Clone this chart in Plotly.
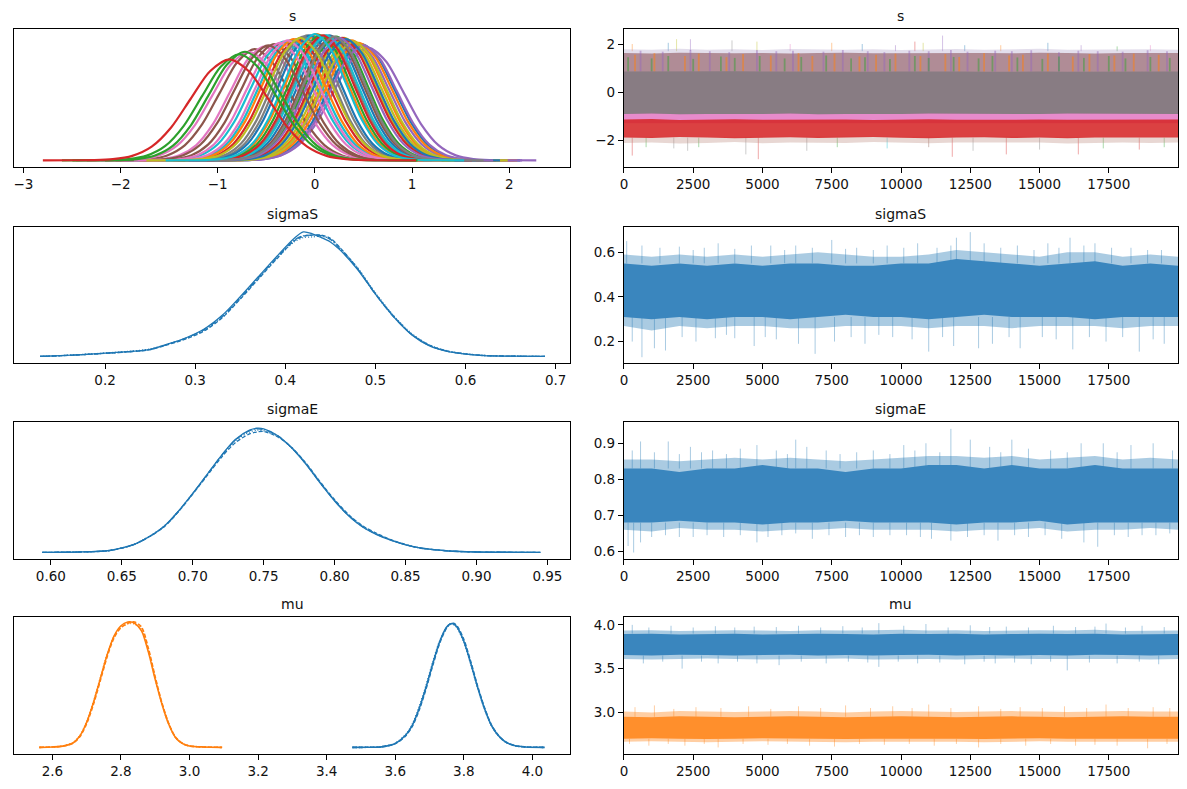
import plotly.graph_objects as go
from plotly.subplots import make_subplots

# matplotlib tab10 colours
TAB10 = ['#1f77b4', '#ff7f0e', '#2ca02c', '#d62728', '#9467bd',
         '#8c564b', '#e377c2', '#7f7f7f', '#bcbd22', '#17becf']

# ---------------- KDE data ----------------
# s: one shape profile, then per element centre / sd / peak height
s_profile_z = [-4.8, -4.0, -3.5, -3.0, -2.5, -2.0, -1.5, -1.0, -0.5, 0.0,
               0.5, 1.0, 1.5, 2.0, 2.5, 3.0, 3.5, 4.0, 4.8]
s_profile_h = [0.0, 0.0004, 0.002, 0.011, 0.044, 0.135, 0.325, 0.607, 0.882, 1.0,
               0.882, 0.607, 0.325, 0.135, 0.044, 0.011, 0.002, 0.0004, 0.0]

s_center = [0.15, 0.38, 0.55, -0.62, -0.52, -0.08, 0.30, -0.32, 0.48, 0.02,
            0.22, -0.18, 0.42, -0.42, -0.68, 0.10, 0.35, -0.25, -0.05, 0.45,
            0.05, 0.28, 0.50, 0.18, -0.36, -0.12, 0.40, 0.12, 0.32, -0.22,
            0.08, 0.25, -0.48, -0.28, 0.20, -0.15, 0.00, -0.72, -0.78, -0.88]
s_peak = [0.99, 0.95, 0.89, 0.88, 0.90, 0.99, 0.97, 0.94, 0.92, 1.00,
          0.98, 0.96, 0.93, 0.92, 0.86, 0.99, 0.95, 0.95, 0.99, 0.93,
          0.99, 0.97, 0.91, 0.98, 0.93, 0.98, 0.94, 0.99, 0.96, 0.96,
          0.99, 0.97, 0.91, 0.95, 0.98, 0.97, 1.00, 0.86, 0.84, 0.80]
s_sd = [0.32, 0.33, 0.36, 0.36, 0.35, 0.32, 0.33, 0.34, 0.34, 0.32,
        0.32, 0.33, 0.34, 0.34, 0.37, 0.32, 0.33, 0.33, 0.32, 0.34,
        0.32, 0.33, 0.34, 0.32, 0.34, 0.32, 0.33, 0.32, 0.33, 0.33,
        0.32, 0.33, 0.35, 0.33, 0.32, 0.33, 0.32, 0.37, 0.38, 0.40]
s_color = [0, 1, 4, 5, 6, 7, 8, 9, 0, 1,
           2, 3, 4, 5, 6, 7, 8, 9, 0, 1,
           2, 3, 4, 5, 6, 7, 8, 9, 0, 1,
           3, 4, 5, 6, 7, 8, 9, 2, 2, 3]

sigmaS_x = [0.128, 0.15, 0.175, 0.2, 0.225, 0.25, 0.27, 0.29, 0.31, 0.33, 0.35, 0.37, 0.39, 0.41,
            0.42, 0.43, 0.44, 0.45, 0.46, 0.48, 0.50, 0.52, 0.54, 0.56, 0.58, 0.60, 0.62, 0.65, 0.688]
sigmaS_c1 = [0, 0.006, 0.015, 0.026, 0.038, 0.056, 0.10, 0.15, 0.22, 0.33, 0.48, 0.64, 0.80, 0.95,
             1.0, 0.985, 0.955, 0.92, 0.86, 0.70, 0.50, 0.32, 0.175, 0.085, 0.04, 0.018, 0.007, 0.002, 0]
sigmaS_c2 = [0, 0.005, 0.014, 0.024, 0.036, 0.054, 0.095, 0.14, 0.205, 0.31, 0.46, 0.62, 0.78, 0.93,
             0.965, 0.975, 0.975, 0.95, 0.88, 0.71, 0.505, 0.325, 0.18, 0.09, 0.042, 0.02, 0.008, 0.002, 0]
sigmaS_c3 = [0, 0.006, 0.016, 0.027, 0.04, 0.06, 0.10, 0.145, 0.21, 0.315, 0.465, 0.625, 0.785, 0.92,
             0.955, 0.96, 0.965, 0.945, 0.875, 0.715, 0.51, 0.33, 0.185, 0.092, 0.044, 0.021, 0.008, 0.002, 0]
sigmaS_c4 = [0, 0.005, 0.014, 0.025, 0.037, 0.055, 0.098, 0.148, 0.215, 0.32, 0.47, 0.63, 0.79, 0.935,
             0.97, 0.975, 0.97, 0.94, 0.87, 0.705, 0.50, 0.32, 0.178, 0.087, 0.041, 0.019, 0.007, 0.002, 0]

sigmaE_x = [0.594, 0.62, 0.64, 0.65, 0.66, 0.67, 0.68, 0.69, 0.70, 0.71, 0.72, 0.73, 0.74, 0.745, 0.75,
            0.76, 0.77, 0.78, 0.79, 0.80, 0.81, 0.82, 0.83, 0.84, 0.85, 0.86, 0.88, 0.90, 0.945]
sigmaE_c1 = [0, 0.003, 0.013, 0.035, 0.07, 0.13, 0.21, 0.33, 0.47, 0.62, 0.77, 0.90, 0.975, 0.99, 0.985,
             0.93, 0.83, 0.70, 0.55, 0.41, 0.29, 0.20, 0.14, 0.095, 0.06, 0.035, 0.011, 0.003, 0]
sigmaE_c2 = [0, 0.003, 0.012, 0.034, 0.07, 0.128, 0.205, 0.325, 0.465, 0.61, 0.755, 0.875, 0.945, 0.96, 0.965,
             0.92, 0.835, 0.71, 0.56, 0.42, 0.30, 0.21, 0.15, 0.1, 0.063, 0.036, 0.012, 0.003, 0]
sigmaE_c3 = [0, 0.003, 0.013, 0.036, 0.072, 0.132, 0.21, 0.33, 0.47, 0.615, 0.765, 0.89, 0.96, 0.975, 0.97,
             0.925, 0.83, 0.705, 0.555, 0.415, 0.295, 0.205, 0.145, 0.098, 0.062, 0.036, 0.012, 0.003, 0]
sigmaE_c4 = [0, 0.003, 0.012, 0.034, 0.069, 0.129, 0.208, 0.328, 0.468, 0.618, 0.768, 0.895, 0.97, 0.985, 0.98,
             0.93, 0.832, 0.702, 0.552, 0.412, 0.292, 0.202, 0.142, 0.096, 0.061, 0.035, 0.011, 0.003, 0]

mu1_x = [2.562, 2.60, 2.63, 2.66, 2.68, 2.70, 2.72, 2.74, 2.76, 2.78, 2.80, 2.82,
         2.83, 2.84, 2.86, 2.88, 2.90, 2.92, 2.94, 2.96, 2.98, 3.00, 3.04, 3.095]
mu1_c1 = [0, 0.003, 0.01, 0.035, 0.09, 0.2, 0.36, 0.55, 0.74, 0.89, 0.97, 1.0,
          1.0, 0.99, 0.93, 0.76, 0.54, 0.34, 0.18, 0.075, 0.03, 0.011, 0.003, 0]
mu1_c2 = [0, 0.003, 0.01, 0.033, 0.085, 0.19, 0.345, 0.535, 0.725, 0.875, 0.955, 0.99,
          1.0, 1.0, 0.96, 0.79, 0.56, 0.35, 0.185, 0.078, 0.031, 0.011, 0.003, 0]
mu1_c3 = [0, 0.003, 0.011, 0.036, 0.092, 0.205, 0.365, 0.555, 0.745, 0.885, 0.96, 0.985,
          0.99, 0.985, 0.94, 0.775, 0.55, 0.345, 0.182, 0.076, 0.03, 0.011, 0.003, 0]

mu0_x = [3.475, 3.52, 3.56, 3.60, 3.63, 3.65, 3.67, 3.69, 3.71, 3.73, 3.75, 3.76,
         3.77, 3.78, 3.80, 3.82, 3.84, 3.86, 3.88, 3.90, 3.92, 3.95, 3.98, 4.036]
mu0_c1 = [0, 0.0005, 0.004, 0.031, 0.096, 0.178, 0.312, 0.482, 0.673, 0.846, 0.96, 0.985,
          0.985, 0.96, 0.846, 0.673, 0.482, 0.312, 0.178, 0.096, 0.046, 0.012, 0.003, 0]
mu0_c2 = [0, 0.0005, 0.004, 0.03, 0.092, 0.17, 0.30, 0.47, 0.66, 0.835, 0.955, 0.985,
          0.99, 0.97, 0.86, 0.685, 0.49, 0.318, 0.182, 0.098, 0.047, 0.012, 0.003, 0]
mu0_c3 = [0, 0.0005, 0.005, 0.033, 0.1, 0.185, 0.325, 0.495, 0.685, 0.85, 0.955, 0.98,
          0.98, 0.955, 0.84, 0.668, 0.478, 0.31, 0.177, 0.095, 0.045, 0.012, 0.003, 0]

# ---------------- trace data (envelopes read every 1000 draws) ----------------
trace_iter = [0, 1000, 2000, 3000, 4000, 5000, 6000, 7000, 8000, 9000, 10000,
              11000, 12000, 13000, 14000, 15000, 16000, 17000, 18000, 19000, 19999]

# s
s_low_hi = [-1.85, -1.86, -1.84, -1.85, -1.86, -1.85, -1.84, -1.86, -1.85, -1.84, -1.85,
            -1.86, -1.85, -1.84, -1.86, -1.85, -1.86, -1.85, -1.84, -1.85, -1.85]
s_low_lo = [-2.12, -2.1, -2.15, -2.12, -2.08, -2.14, -2.1, -2.1, -2.12, -2.08, -2.12,
            -2.14, -2.1, -2.12, -2.1, -2.1, -2.15, -2.12, -2.1, -2.12, -2.1]
s_pink_hi = [-0.8, -0.78, -0.82, -0.8, -0.79, -0.81, -0.8, -0.78, -0.8, -0.82, -0.8,
             -0.79, -0.81, -0.8, -0.78, -0.8, -0.81, -0.79, -0.8, -0.8, -0.8]
s_pink_lo = [-1.3, -1.3, -1.28, -1.3, -1.31, -1.3, -1.29, -1.3, -1.3, -1.28, -1.3,
             -1.31, -1.3, -1.29, -1.3, -1.3, -1.31, -1.3, -1.29, -1.3, -1.3]
s_red_hi = [-1.15, -1.13, -1.17, -1.15, -1.14, -1.16, -1.15, -1.13, -1.15, -1.17, -1.15,
            -1.14, -1.16, -1.15, -1.13, -1.15, -1.16, -1.15, -1.14, -1.15, -1.15]
s_red_lo = [-1.9, -1.92, -1.88, -1.9, -1.93, -1.9, -1.89, -1.92, -1.9, -1.88, -1.91,
            -1.93, -1.9, -1.89, -1.92, -1.9, -1.93, -1.9, -1.88, -1.9, -1.9]
s_upper_hi = [1.62, 1.6, 1.64, 1.62, 1.61, 1.63, 1.6, 1.62, 1.64, 1.61, 1.62,
              1.6, 1.63, 1.62, 1.61, 1.64, 1.62, 1.6, 1.63, 1.62, 1.62]
s_top_hi = [1.78, 1.76, 1.8, 1.76, 1.78, 1.75, 1.79, 1.77, 1.76, 1.78, 1.75,
            1.77, 1.79, 1.76, 1.78, 1.8, 1.76, 1.77, 1.75, 1.78, 1.76]
s_core_hi = [0.85, 0.86, 0.84, 0.85, 0.86, 0.85, 0.84, 0.86, 0.85, 0.84, 0.85,
             0.86, 0.85, 0.84, 0.86, 0.85, 0.84, 0.85, 0.86, 0.85, 0.85]
s_core_lo = [-0.92, -0.9, -0.93, -0.92, -0.91, -0.92, -0.9, -0.93, -0.92, -0.91, -0.92,
             -0.9, -0.92, -0.93, -0.91, -0.92, -0.9, -0.92, -0.93, -0.91, -0.92]
# coloured streaks in the upper part of the s trace
s_orange_x = [400, 1100, 2200, 2700, 3700, 4300, 5300, 6300, 6800, 7600, 8500, 9100, 9800,
              10700, 11600, 12100, 13000, 13900, 14400, 15300, 16200, 16800, 17700, 18400, 19300]
s_orange_top = [1.55, 1.62, 1.5, 1.6, 1.45, 1.58, 1.52, 1.62, 1.5, 1.6, 1.48, 1.55, 1.6,
                1.5, 1.58, 1.46, 1.62, 1.52, 1.55, 1.6, 1.48, 1.58, 1.52, 1.6, 1.55]
s_green_x = [150, 1000, 1600, 2500, 3500, 4000, 4900, 5800, 6400, 7300, 8200, 8700, 9600,
             10500, 11000, 11900, 12800, 13300, 14200, 15100, 15700, 16600, 17500, 18100, 19000, 19700]
s_green_top = [1.45, 1.4, 1.5, 1.38, 1.48, 1.42, 1.5, 1.4, 1.46, 1.52, 1.4, 1.45, 1.38,
               1.5, 1.42, 1.46, 1.4, 1.5, 1.44, 1.38, 1.48, 1.42, 1.5, 1.4, 1.46, 1.42]
s_purple_x = [600, 1400, 2400, 3100, 3800, 4800, 5500, 6100, 7200, 7900, 8800, 9400, 10300,
              11000, 11800, 12400, 13400, 14000, 14700, 15700, 16400, 17100, 18000, 18900, 19600]
s_purple_top = [1.72, 1.68, 1.75, 1.7, 1.66, 1.74, 1.7, 1.72, 1.68, 1.75, 1.7, 1.66, 1.72,
                1.7, 1.75, 1.68, 1.72, 1.7, 1.74, 1.66, 1.72, 1.7, 1.68, 1.74, 1.7]
s_up_x = [300, 1600, 1900, 2400, 3900, 4800, 6000, 7500, 8600, 9800, 10500,
          10800, 11500, 12300, 13600, 15300, 16500, 17800, 19000]
s_up_top = [2.0, 2.05, 2.2, 2.2, 2.15, 2.1, 2.0, 2.05, 2.0, 1.95, 2.1,
            2.05, 2.35, 1.95, 1.95, 2.05, 1.95, 1.9, 1.95]
s_up_col = [1, 0, 8, 4, 7, 8, 6, 1, 0, 4, 3, 8, 4, 0, 1, 0, 4, 2, 6]
s_dn_x = [300, 800, 1800, 2300, 2700, 4400, 4850, 6600, 7700, 9500, 11000,
          11850, 12600, 13800, 15000, 16400, 17300, 18600, 19500]
s_dn_bot = [-2.65, -2.3, -2.35, -2.45, -2.3, -2.6, -2.8, -2.45, -2.3, -2.35, -2.3,
            -2.7, -2.45, -2.6, -2.4, -2.6, -2.35, -2.4, -2.3]
s_dn_col = [3, 2, 7, 7, 2, 7, 3, 7, 2, 9, 5, 3, 7, 3, 7, 3, 2, 3, 2]

# sigmaS
sigmaS_core_hi = [0.55, 0.54, 0.55, 0.54, 0.55, 0.54, 0.55, 0.55, 0.54, 0.54, 0.55,
                  0.55, 0.57, 0.56, 0.55, 0.54, 0.55, 0.56, 0.54, 0.55, 0.54]
sigmaS_core_lo = [0.31, 0.30, 0.31, 0.30, 0.31, 0.31, 0.30, 0.31, 0.32, 0.31, 0.31,
                  0.30, 0.31, 0.32, 0.31, 0.31, 0.31, 0.30, 0.31, 0.31, 0.31]
sigmaS_out_hi = [0.59, 0.58, 0.59, 0.58, 0.59, 0.58, 0.59, 0.60, 0.59, 0.58, 0.58,
                 0.59, 0.61, 0.60, 0.59, 0.58, 0.60, 0.60, 0.58, 0.59, 0.58]
sigmaS_out_lo = [0.27, 0.25, 0.27, 0.26, 0.27, 0.27, 0.26, 0.26, 0.27, 0.27, 0.27,
                 0.26, 0.27, 0.27, 0.26, 0.27, 0.27, 0.27, 0.26, 0.27, 0.27]
sigmaS_up_x = [100, 650, 1300, 2000, 2500, 2900, 3400, 4000, 4600, 5300, 5800, 6200, 6800,
               7500, 8000, 8400, 9000, 9500, 10100, 10600, 11300, 11800, 12000, 12500, 13000,
               13600, 14200, 14800, 15300, 15700, 16100, 16600, 17000, 17600, 18300, 18900, 19400]
sigmaS_up_top = [0.65, 0.63, 0.62, 0.625, 0.61, 0.62, 0.64, 0.615, 0.63, 0.63, 0.61, 0.63, 0.62,
                 0.655, 0.615, 0.62, 0.61, 0.63, 0.62, 0.64, 0.62, 0.63, 0.665, 0.69, 0.64,
                 0.62, 0.63, 0.61, 0.64, 0.62, 0.665, 0.63, 0.64, 0.62, 0.62, 0.61, 0.61]
sigmaS_dn_x = [300, 650, 1100, 1500, 2100, 2600, 3300, 3700, 4000, 4700, 5100, 5500, 6300,
               6900, 7600, 8200, 8700, 9200, 9700, 10400, 11000, 11500, 11900, 12800, 13300,
               13900, 14300, 15100, 15600, 16200, 16800, 17400, 18000, 18600, 19100, 19500]
sigmaS_dn_bot = [0.2, 0.13, 0.17, 0.16, 0.22, 0.20, 0.215, 0.23, 0.215, 0.18, 0.22, 0.21, 0.19,
                 0.145, 0.2, 0.22, 0.19, 0.23, 0.22, 0.21, 0.155, 0.22, 0.18, 0.17, 0.19,
                 0.22, 0.17, 0.22, 0.21, 0.165, 0.22, 0.2, 0.22, 0.155, 0.21, 0.19]

# sigmaE
sigmaE_core_hi = [0.83, 0.83, 0.82, 0.83, 0.83, 0.84, 0.83, 0.83, 0.82, 0.83, 0.83,
                  0.84, 0.84, 0.83, 0.84, 0.83, 0.83, 0.84, 0.83, 0.83, 0.83]
sigmaE_core_lo = [0.68, 0.68, 0.685, 0.68, 0.68, 0.675, 0.68, 0.68, 0.685, 0.68, 0.68,
                  0.68, 0.675, 0.68, 0.68, 0.685, 0.675, 0.68, 0.68, 0.68, 0.68]
sigmaE_out_hi = [0.855, 0.855, 0.85, 0.855, 0.86, 0.855, 0.86, 0.855, 0.85, 0.855, 0.86,
                 0.865, 0.865, 0.86, 0.865, 0.855, 0.86, 0.865, 0.855, 0.86, 0.855]
sigmaE_out_lo = [0.66, 0.655, 0.665, 0.66, 0.66, 0.655, 0.66, 0.66, 0.665, 0.66, 0.66,
                 0.66, 0.655, 0.66, 0.66, 0.665, 0.655, 0.66, 0.66, 0.665, 0.66]
sigmaE_up_x = [300, 600, 1100, 1600, 2000, 2400, 2800, 3200, 3700, 4200, 4800, 5500, 5900, 6200,
               6600, 7300, 7800, 8400, 9000, 9600, 10100, 10500, 10900, 11400, 11800, 12500,
               13200, 13600, 14000, 14600, 15400, 16000, 16500, 17300, 17800, 18300, 19100, 19800]
sigmaE_up_top = [0.88, 0.905, 0.875, 0.905, 0.87, 0.89, 0.875, 0.88, 0.87, 0.885, 0.895, 0.88, 0.87, 0.91,
                 0.89, 0.88, 0.87, 0.875, 0.88, 0.87, 0.895, 0.88, 0.9, 0.875, 0.94, 0.91,
                 0.89, 0.875, 0.91, 0.885, 0.88, 0.875, 0.9, 0.9, 0.875, 0.895, 0.9, 0.88]
sigmaE_dn_x = [150, 350, 600, 1000, 1500, 2000, 2500, 3000, 3600, 4200, 4800, 5200, 5700,
               6200, 6800, 7400, 8000, 8500, 9000, 9600, 10200, 10700, 11100, 11800, 12400,
               13000, 13500, 14100, 14600, 15200, 15800, 16600, 17100, 17700, 18200, 18700, 19200, 19700]
sigmaE_dn_bot = [0.615, 0.597, 0.625, 0.64, 0.645, 0.64, 0.64, 0.645, 0.64, 0.645, 0.625, 0.64, 0.645,
                 0.65, 0.635, 0.645, 0.64, 0.645, 0.64, 0.645, 0.645, 0.64, 0.635, 0.63, 0.64,
                 0.645, 0.63, 0.645, 0.64, 0.645, 0.635, 0.625, 0.613, 0.645, 0.64, 0.645, 0.645, 0.65]

# mu (two elements)
mu0_core_hi = [3.895, 3.9, 3.89, 3.895, 3.9, 3.89, 3.895, 3.9, 3.895, 3.89, 3.9,
               3.895, 3.9, 3.89, 3.895, 3.9, 3.895, 3.9, 3.89, 3.895, 3.895]
mu0_core_lo = [3.655, 3.65, 3.66, 3.655, 3.65, 3.655, 3.66, 3.65, 3.655, 3.65, 3.655,
               3.66, 3.65, 3.655, 3.65, 3.655, 3.65, 3.66, 3.655, 3.65, 3.655]
mu0_out_hi = [3.935, 3.94, 3.93, 3.935, 3.94, 3.935, 3.93, 3.94, 3.935, 3.94, 3.945,
              3.935, 3.94, 3.93, 3.935, 3.94, 3.935, 3.945, 3.93, 3.935, 3.935]
mu0_out_lo = [3.61, 3.605, 3.61, 3.615, 3.61, 3.605, 3.61, 3.61, 3.615, 3.605, 3.61,
              3.61, 3.605, 3.61, 3.615, 3.61, 3.605, 3.61, 3.61, 3.605, 3.61]
mu0_up_x = [300, 900, 1700, 2500, 3300, 4000, 4700, 5500, 6300, 7100, 7900, 8600, 9200, 10100,
            10900, 11700, 12500, 13200, 13800, 14600, 15500, 16300, 17000, 17400, 18100, 18700, 19500]
mu0_up_top = [4.0, 3.97, 3.99, 3.97, 3.985, 3.97, 3.98, 3.975, 3.99, 3.97, 3.985, 3.97, 4.02, 3.99,
              4.01, 3.97, 3.995, 3.975, 3.98, 3.97, 3.99, 3.975, 3.98, 4.015, 3.97, 3.99, 3.975]
mu0_dn_x = [700, 1400, 2100, 2800, 3400, 4100, 4800, 5600, 6400, 7300, 8100, 8800, 9200, 9900,
            10600, 11400, 12300, 13000, 13400, 14100, 14700, 15400, 16000, 16800, 17800, 18600, 19300]
mu0_dn_bot = [3.56, 3.58, 3.50, 3.58, 3.56, 3.58, 3.56, 3.54, 3.58, 3.56, 3.58, 3.57, 3.52, 3.58,
              3.56, 3.57, 3.55, 3.58, 3.56, 3.57, 3.55, 3.58, 3.48, 3.57, 3.56, 3.58, 3.55]

mu1_core_hi = [2.95, 2.945, 2.955, 2.95, 2.945, 2.95, 2.955, 2.95, 2.945, 2.95, 2.955,
               2.95, 2.945, 2.95, 2.955, 2.95, 2.945, 2.95, 2.955, 2.95, 2.95]
mu1_core_lo = [2.70, 2.705, 2.70, 2.695, 2.70, 2.705, 2.70, 2.70, 2.695, 2.70, 2.705,
               2.70, 2.70, 2.695, 2.70, 2.705, 2.70, 2.70, 2.695, 2.70, 2.70]
mu1_out_hi = [3.01, 3.0, 3.015, 3.01, 3.005, 3.01, 3.015, 3.01, 3.0, 3.01, 3.015,
              3.01, 3.005, 3.01, 3.015, 3.01, 3.005, 3.01, 3.015, 3.01, 3.01]
mu1_out_lo = [2.665, 2.67, 2.665, 2.66, 2.665, 2.67, 2.665, 2.665, 2.66, 2.665, 2.67,
              2.665, 2.665, 2.66, 2.665, 2.67, 2.665, 2.665, 2.66, 2.665, 2.665]
mu1_up_x = [400, 1100, 1800, 2600, 3500, 4500, 5300, 6300, 7100, 8000, 8900, 9700, 10400,
            11000, 11800, 12800, 13600, 14300, 15100, 15900, 16700, 17400, 18200, 19100, 19700]
mu1_up_top = [3.06, 3.08, 3.04, 3.06, 3.05, 3.07, 3.04, 3.07, 3.05, 3.08, 3.05, 3.07, 3.05,
              3.09, 3.05, 3.07, 3.04, 3.06, 3.05, 3.07, 3.05, 3.09, 3.05, 3.06, 3.05]
mu1_dn_x = [200, 900, 1600, 2200, 2900, 3400, 4300, 5200, 5900, 6700, 7600, 8500, 9400,
            10300, 11200, 12000, 12800, 13600, 14500, 15400, 16300, 17000, 17800, 18900, 19600]
mu1_dn_bot = [2.64, 2.62, 2.64, 2.62, 2.64, 2.60, 2.64, 2.63, 2.64, 2.62, 2.61, 2.64, 2.63,
              2.64, 2.62, 2.64, 2.60, 2.64, 2.62, 2.64, 2.62, 2.63, 2.62, 2.59, 2.64]

# ---------------- figure ----------------
FONT = "DejaVu Sans"
W, H, PAD = 1187, 789, 8   # page body adds an 8px offset
fig = make_subplots(rows=4, cols=2)

# axes boxes in picture pixels
col_px = [[10, 568], [622, 1178]]
row_px = [[29, 167], [227, 363], [422, 559], [617, 754]]
col_dom = [[(a - PAD) / W, (b - PAD) / W] for a, b in col_px]
row_dom = [[1 - (b - PAD) / H, 1 - (a - PAD) / H] for a, b in row_px]
titles = ["s", "sigmaS", "sigmaE", "mu"]
dashes = ["solid", "4px,2px", "1px,2px", "6px,2px,1px,2px"]


def rgba(hex_color, a):
    h = hex_color.lstrip("#")
    return "rgba(%d,%d,%d,%.3f)" % (int(h[0:2], 16), int(h[2:4], 16), int(h[4:6], 16), a)


def kde(x, y, color, dash, row, width=1.3):
    fig.add_trace(go.Scatter(x=x, y=y, mode="lines", line=dict(color=color, width=width, dash=dash,
                                                                shape="spline", smoothing=0.8),
                             hoverinfo="skip"), row=row, col=1)


def band(lo, hi, color, row):
    fig.add_trace(go.Scatter(x=trace_iter + trace_iter[::-1], y=hi + lo[::-1], fill="toself",
                             fillcolor=color, mode="lines", line=dict(width=0),
                             hoverinfo="skip"), row=row, col=2)


def spikes(xs, base, ends, color, row, width=1.0):
    x, y = [], []
    for it, end in zip(xs, ends):
        x += [it, it, None]
        y += [base, end, None]
    fig.add_trace(go.Scatter(x=x, y=y, mode="lines", line=dict(color=color, width=width),
                             hoverinfo="skip"), row=row, col=2)


# --- s KDE
for c, p, sd, ci in zip(s_center, s_peak, s_sd, s_color):
    xs = [c + sd * z for z in s_profile_z]
    ys = [p * h for h in s_profile_h]
    kde(xs, ys, TAB10[ci], "solid", 1, width=2.2)

# --- sigmaS / sigmaE KDE
for i, ys in enumerate([sigmaS_c1, sigmaS_c2, sigmaS_c3, sigmaS_c4]):
    kde(sigmaS_x, ys, TAB10[0], dashes[i], 2)
for i, ys in enumerate([sigmaE_c1, sigmaE_c2, sigmaE_c3, sigmaE_c4]):
    kde(sigmaE_x, ys, TAB10[0], dashes[i], 3)

# --- mu KDE
for i, ys in enumerate([mu0_c1, mu0_c2, mu0_c3]):
    kde(mu0_x, ys, TAB10[0], dashes[i], 4, width=1.6)
for i, ys in enumerate([mu1_c1, mu1_c2, mu1_c3]):
    kde(mu1_x, ys, TAB10[1], dashes[i], 4, width=1.6)

# --- s trace
for xs, ends, cols, base in [(s_up_x, s_up_top, s_up_col, 1.7), (s_dn_x, s_dn_bot, s_dn_col, -1.9)]:
    for ci in sorted(set(cols)):
        sel = [k for k, cc in enumerate(cols) if cc == ci]
        spikes([xs[k] for k in sel], base, [ends[k] for k in sel], rgba(TAB10[ci], 0.4), 1)
band(s_low_lo, s_low_hi, "rgba(190,140,130,0.35)", 1)
band(s_core_hi, s_top_hi, "rgba(175,160,200,0.35)", 1)
band(s_core_lo, s_upper_hi, "rgb(176,140,150)", 1)
spikes(s_purple_x, 0.85, s_purple_top, rgba(TAB10[4], 0.45), 1, width=1.8)
spikes(s_orange_x, 0.85, s_orange_top, rgba(TAB10[1], 0.5), 1, width=1.8)
spikes(s_green_x, 0.85, s_green_top, rgba(TAB10[2], 0.45), 1, width=1.8)
band(s_pink_lo, s_pink_hi, "rgba(227,119,194,0.85)", 1)
band(s_red_lo, s_red_hi, "rgba(214,39,40,0.88)", 1)
band(s_core_lo, s_core_hi, "rgb(136,124,131)", 1)

# --- sigmaS / sigmaE traces
blue_light = rgba(TAB10[0], 0.38)
blue_mid = rgba(TAB10[0], 0.6)
blue_dense = "rgb(58,134,190)"
spikes(sigmaS_up_x, 0.55, sigmaS_up_top, blue_light, 2)
spikes(sigmaS_dn_x, 0.31, sigmaS_dn_bot, blue_light, 2)
band(sigmaS_out_lo, sigmaS_out_hi, blue_light, 2)
band(sigmaS_core_lo, sigmaS_core_hi, blue_dense, 2)

spikes(sigmaE_up_x, 0.83, sigmaE_up_top, blue_light, 3)
spikes(sigmaE_dn_x, 0.68, sigmaE_dn_bot, blue_light, 3)
band(sigmaE_out_lo, sigmaE_out_hi, blue_light, 3)
band(sigmaE_core_lo, sigmaE_core_hi, blue_dense, 3)

# --- mu traces
spikes(mu0_up_x, 3.9, mu0_up_top, blue_light, 4)
spikes(mu0_dn_x, 3.65, mu0_dn_bot, blue_light, 4)
band(mu0_out_lo, mu0_out_hi, blue_light, 4)
band(mu0_core_lo, mu0_core_hi, blue_dense, 4)
orange_light = rgba(TAB10[1], 0.38)
spikes(mu1_up_x, 2.95, mu1_up_top, orange_light, 4)
spikes(mu1_dn_x, 2.70, mu1_dn_bot, orange_light, 4)
band(mu1_out_lo, mu1_out_hi, orange_light, 4)
band(mu1_core_lo, mu1_core_hi, "rgb(255,143,44)", 4)

# ---------------- axes ----------------
axis_style = dict(showline=True, mirror=True, linecolor="black", linewidth=1.1, showgrid=False,
                  zeroline=False, ticks="outside", ticklen=5, tickwidth=1.1, tickcolor="black",
                  tickfont=dict(family=FONT, size=13.5, color="#111"))

kde_xrange = [[-3.097, 2.626], [0.099, 0.716], [0.574, 0.966], [2.488, 4.11]]
kde_ticks = [[-3, -2, -1, 0, 1, 2], [0.2, 0.3, 0.4, 0.5, 0.6, 0.7],
             [0.6, 0.65, 0.7, 0.75, 0.8, 0.85, 0.9, 0.95], [2.6, 2.8, 3.0, 3.2, 3.4, 3.6, 3.8, 4.0]]
kde_fmt = ["d", ".1f", ".2f", ".1f"]
trace_yrange = [[-3.125, 2.625], [0.104, 0.713], [0.579, 0.959], [2.525, 4.09]]
trace_yticks = [[-2, 0, 2], [0.2, 0.4, 0.6], [0.6, 0.7, 0.8, 0.9], [3.0, 3.5, 4.0]]
trace_yfmt = ["d", ".1f", ".1f", ".1f"]
iter_ticks = [0, 2500, 5000, 7500, 10000, 12500, 15000, 17500]

for r in range(4):
    fig.update_xaxes(axis_style, domain=col_dom[0], range=kde_xrange[r], tickvals=kde_ticks[r],
                     tickformat=kde_fmt[r], row=r + 1, col=1)
    fig.update_yaxes(axis_style, domain=row_dom[r], range=[-0.053, 1.04], showticklabels=False,
                     ticks="", row=r + 1, col=1)
    fig.update_xaxes(axis_style, domain=col_dom[1], range=[0, 19999], tickvals=iter_ticks,
                     tickformat="d", row=r + 1, col=2)
    fig.update_yaxes(axis_style, domain=row_dom[r], range=trace_yrange[r], tickvals=trace_yticks[r],
                     tickformat=trace_yfmt[r], row=r + 1, col=2)
    for c in range(2):
        fig.add_annotation(text=titles[r], xref="paper", yref="paper",
                           x=(col_dom[c][0] + col_dom[c][1]) / 2, y=row_dom[r][1],
                           xanchor="center", yanchor="bottom", yshift=3, showarrow=False,
                           font=dict(family=FONT, size=14, color="#111"))

fig.update_layout(width=W, height=H, margin=dict(l=0, r=0, t=0, b=0),
                  paper_bgcolor="white", plot_bgcolor="white", showlegend=False,
                  font=dict(family=FONT))

fig.write_html("out.html")
